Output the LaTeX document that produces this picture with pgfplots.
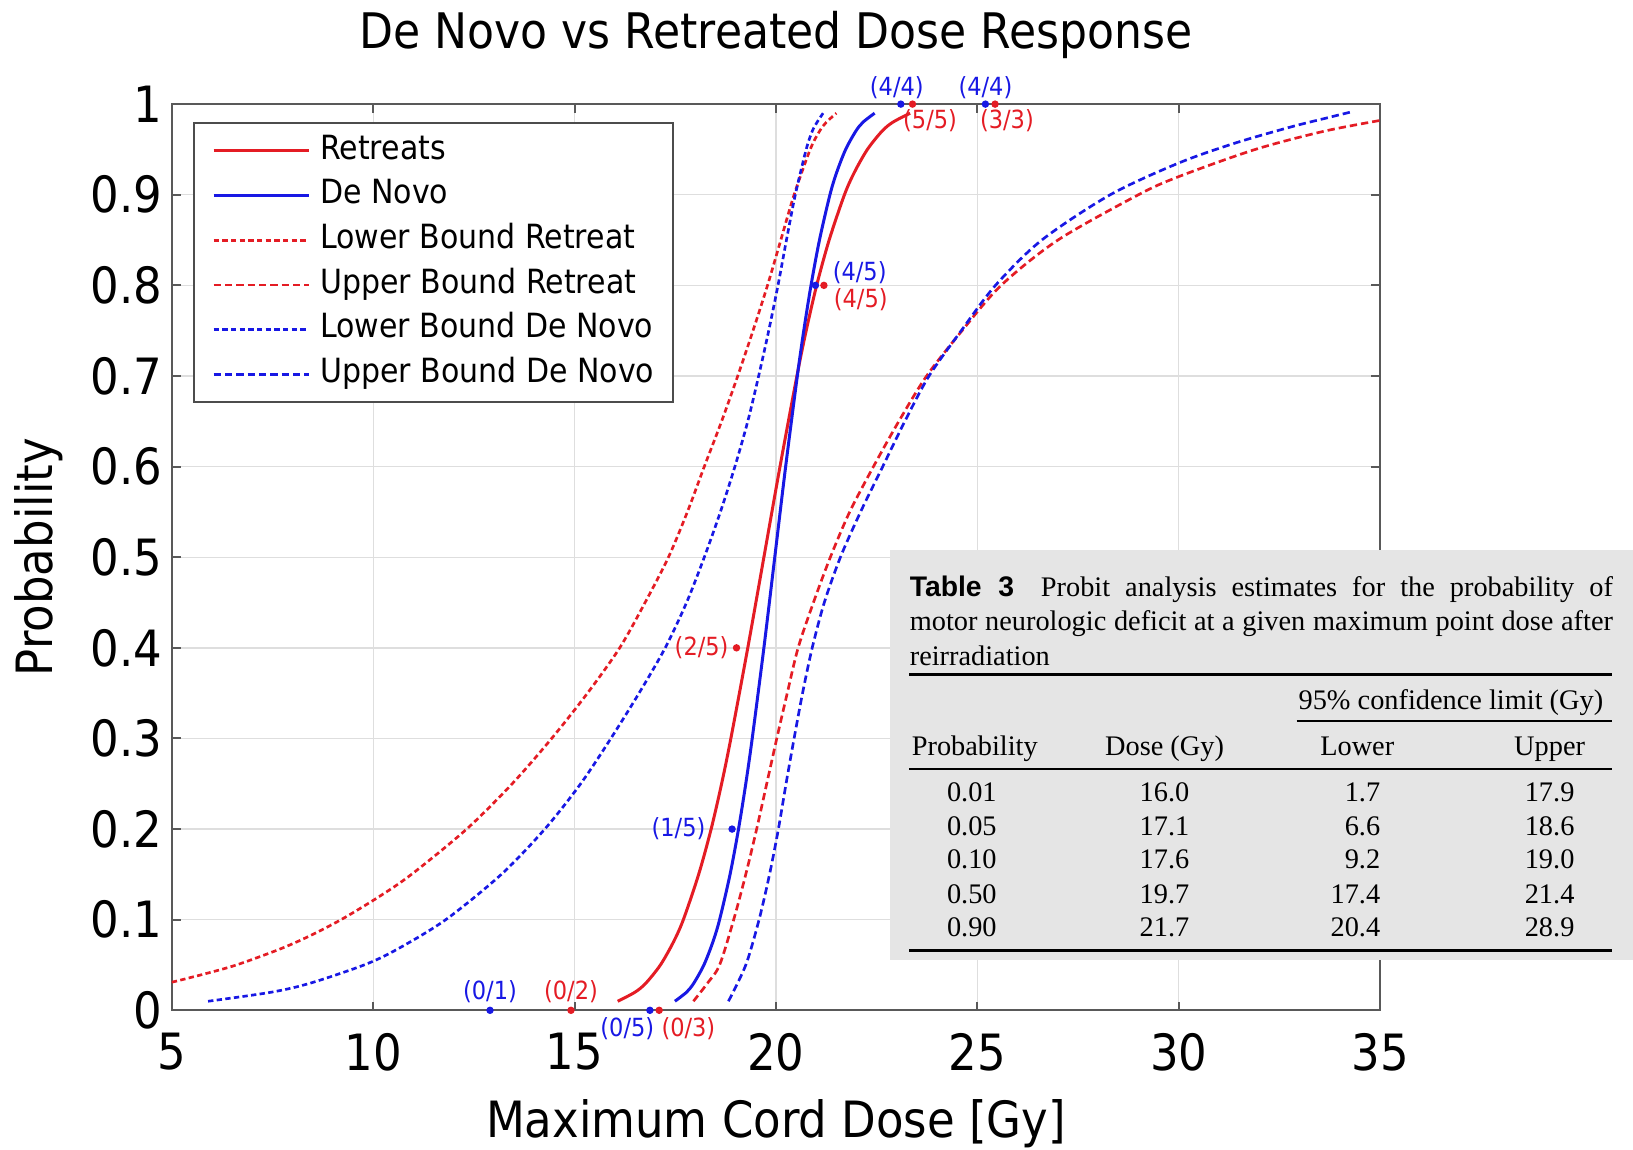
\documentclass[border=0pt]{standalone}
\usepackage{pgfplots}
\pgfplotsset{compat=1.18}
\usepackage{fontspec}
\setmainfont{DejaVu Sans}[FakeStretch=0.9]
\newfontfamily\tabserif{Liberation Serif}
\newfontfamily\tabsans{Liberation Sans}
\definecolor{mred}{RGB}{228,28,36}
\definecolor{mblue}{RGB}{24,24,228}
\begin{document}
\begin{tikzpicture}
\begin{axis}[
  width=362.4pt, height=271.8pt, scale only axis,
  xmin=5, xmax=35, ymin=0, ymax=1,
  xtick={5,10,15,20,25,30,35},
  xticklabels={5,10,15,20,25,30,35},
  ytick={0,0.1,0.2,0.3,0.4,0.5,0.6,0.7,0.8,0.9,1},
  yticklabels={0,0.1,0.2,0.3,0.4,0.5,0.6,0.7,0.8,0.9,1},
  /pgf/number format/assume math mode=true,
  tick label style={font=\fontsize{15}{18}\selectfont},
  xticklabel style={anchor=north, inner sep=0pt, yshift=-6.6pt},
  yticklabel style={anchor=east, inner sep=0pt, xshift=-2.7pt},
  title={De Novo vs Retreated Dose Response},
  title style={at={(axis description cs:0.5,1.0392)}, anchor=base, font=\fontsize{14.7}{17}\selectfont, inner sep=0pt},
  xlabel={Maximum Cord Dose [Gy]},
  xlabel style={at={(axis description cs:0.5,-0.1402)}, anchor=base, font=\fontsize{15}{18}\selectfont, inner sep=0pt},
  ylabel={Probability},
  ylabel style={at={(axis description cs:-0.0991,0.5)}, anchor=base, font=\fontsize{15}{18}\selectfont, inner sep=0pt},
  grid=major, major grid style={line width=0.4pt, black!13},
  axis line style={line width=0.6pt, black!65},
  major tick style={line width=0.6pt, black!65}, major tick length=2.6pt, tick align=inside,
  clip=false,
  legend style={at={(axis description cs:0.0174,0.980)}, anchor=north west,
    draw=black!70, line width=0.6pt, fill=white,
    font=\fontsize{10}{12}\selectfont,
    inner xsep=5.5pt, inner ysep=3.4pt, row sep=3.6pt, column sep=3pt,
    nodes={inner sep=0pt, text height=7.4pt, text depth=2.4pt}},
  legend cell align=left,
  legend image code/.code={\draw[#1] (0pt,0pt) -- (28.5pt,0pt);},
]
% Retreats
\addplot[mred, line width=0.9pt, smooth] coordinates {
(16.07,0.01)(16.50,0.02)(16.77,0.03)(17.13,0.05)(17.45,0.075)(17.70,0.10)(18.08,0.15)(18.39,0.20)(18.65,0.25)(18.88,0.30)(19.30,0.40)(19.70,0.50)(20.10,0.60)(20.52,0.70)(20.75,0.75)(21.01,0.80)(21.32,0.85)(21.70,0.90)(21.95,0.925)(22.27,0.95)(22.63,0.97)(22.90,0.98)(23.33,0.99)};
\addlegendentry{Retreats}
% De Novo
\addplot[mblue, line width=0.9pt, smooth] coordinates {
(17.49,0.01)(17.78,0.02)(17.96,0.03)(18.21,0.05)(18.43,0.075)(18.60,0.10)(18.86,0.15)(19.07,0.20)(19.25,0.25)(19.41,0.30)(19.70,0.40)(19.97,0.50)(20.24,0.60)(20.53,0.70)(20.69,0.75)(20.87,0.80)(21.08,0.85)(21.34,0.90)(21.51,0.925)(21.73,0.95)(21.98,0.97)(22.16,0.98)(22.45,0.99)};
\addlegendentry{De Novo}
% Lower Bound Retreat
\addplot[mred, line width=0.8pt, dash pattern=on 1.6pt off 1pt, smooth] coordinates {
(5.0,0.031)(5.8,0.040)(6.6,0.05)(7.65,0.067)(8.37,0.081)(9.2,0.10)(10.13,0.125)(10.95,0.15)(12.32,0.20)(13.45,0.25)(14.43,0.30)(15.32,0.35)(16.12,0.40)(16.75,0.45)(17.33,0.50)(17.80,0.55)(18.22,0.60)(18.65,0.65)(19.05,0.70)(19.43,0.75)(19.79,0.80)(20.12,0.85)(20.45,0.90)(20.85,0.95)(21.08,0.97)(21.25,0.98)(21.5,0.99)};
\addlegendentry{Lower Bound Retreat}
% Upper Bound Retreat
\addplot[mred, line width=0.8pt, dash pattern=on 2.2pt off 1.2pt, smooth] coordinates {
(17.95,0.01)(18.3,0.03)(18.6,0.05)(18.95,0.10)(19.25,0.15)(19.52,0.20)(19.77,0.25)(20.02,0.30)(20.28,0.35)(20.55,0.40)(20.93,0.45)(21.35,0.50)(21.83,0.55)(22.42,0.60)(23.05,0.65)(23.74,0.70)(24.62,0.75)(25.59,0.80)(27.0,0.85)(29.0,0.90)(30.0,0.92)(31.9,0.95)(33.6,0.97)(35.0,0.982)};
\addlegendentry{Upper Bound Retreat}
% Lower Bound De Novo
\addplot[mblue, line width=0.8pt, dash pattern=on 1.6pt off 1pt, smooth] coordinates {
(5.9,0.01)(7.47,0.02)(8.44,0.03)(9.77,0.05)(10.58,0.067)(11.8,0.10)(13.18,0.15)(14.26,0.20)(15.15,0.25)(15.9,0.30)(16.6,0.35)(17.25,0.40)(17.78,0.45)(18.22,0.50)(18.62,0.55)(18.98,0.60)(19.3,0.65)(19.57,0.70)(19.82,0.75)(20.05,0.80)(20.26,0.85)(20.48,0.90)(20.75,0.95)(20.9,0.97)(21.02,0.98)(21.17,0.99)};
\addlegendentry{Lower Bound De Novo}
% Upper Bound De Novo
\addplot[mblue, line width=0.8pt, dash pattern=on 2.2pt off 1.2pt, smooth] coordinates {
(18.82,0.01)(19.25,0.05)(19.58,0.10)(19.84,0.15)(20.06,0.20)(20.25,0.25)(20.45,0.30)(20.66,0.35)(20.9,0.40)(21.2,0.45)(21.6,0.50)(22.1,0.55)(22.65,0.60)(23.2,0.65)(23.8,0.70)(24.6,0.75)(25.45,0.80)(26.6,0.85)(28.3,0.90)(30.0,0.935)(31.4,0.957)(32.8,0.975)(33.7,0.985)(34.25,0.991)};
\addlegendentry{Upper Bound De Novo}
% observed points
\addplot[only marks, mark=*, mark size=0.9pt, mblue, forget plot] coordinates {
(12.9,0)(16.87,0)(18.91,0.2)(20.98,0.8)(23.1,1)(25.2,1)};
\addplot[only marks, mark=*, mark size=0.9pt, mred, forget plot] coordinates {
(14.91,0)(17.1,0)(19.02,0.4)(21.19,0.8)(23.39,1)(25.44,1)};
% point labels
\tikzset{ann/.style={inner sep=0pt, font=\fontsize{7.5}{9}\selectfont}}
\node[ann, text=mblue, anchor=south, yshift=2pt] at (axis cs:12.9,0) {(0/1)};
\node[ann, text=mblue, anchor=north east, xshift=1.5pt, yshift=-2pt] at (axis cs:16.87,0) {(0/5)};
\node[ann, text=mblue, anchor=east, xshift=-7.8pt] at (axis cs:18.91,0.2) {(1/5)};
\node[ann, text=mblue, anchor=west, xshift=5pt, yshift=3.7pt] at (axis cs:20.98,0.8) {(4/5)};
\node[ann, text=mblue, anchor=south, xshift=-1.2pt, yshift=1.5pt] at (axis cs:23.1,1) {(4/4)};
\node[ann, text=mblue, anchor=south, yshift=1.5pt] at (axis cs:25.2,1) {(4/4)};
\node[ann, text=mred, anchor=south, yshift=2pt] at (axis cs:14.91,0) {(0/2)};
\node[ann, text=mred, anchor=north west, xshift=0.5pt, yshift=-2pt] at (axis cs:17.1,0) {(0/3)};
\node[ann, text=mred, anchor=east, xshift=-2.2pt] at (axis cs:19.02,0.4) {(2/5)};
\node[ann, text=mred, anchor=west, xshift=2.8pt, yshift=-4.4pt] at (axis cs:21.19,0.8) {(4/5)};
\node[ann, text=mred, anchor=north west, xshift=-3pt, yshift=-1.5pt] at (axis cs:23.39,1) {(5/5)};
\node[ann, text=mred, anchor=north west, xshift=-4.7pt, yshift=-1.5pt] at (axis cs:25.44,1) {(3/3)};
% anchors for table and bounding box
\coordinate (tblNW) at (axis cs:22.843,0.508);
\coordinate (tblSE) at (axis cs:41.28,0.0552);
\coordinate (bbSW) at (axis cs:0.733,-0.154);
\coordinate (bbNE) at (axis cs:41.28,1.1149);
\end{axis}
% inset table
\fill[black!10] (tblNW) rectangle (tblSE);
\tikzset{tt/.style={anchor=base, inner sep=0pt, font=\tabserif\fontsize{8.5}{10.3}\selectfont}}
\node[anchor=north west, inner sep=0pt, text width=210.9pt, align=justify,
      font=\tabserif\fontsize{8.5}{10.3}\selectfont]
  at ([shift={(5.6pt,-7.6pt)}]tblNW)
  {{\tabsans\bfseries Table 3}\hspace{8pt}Probit analysis estimates for the probability of\linebreak motor neurologic deficit at a given maximum point dose after\linebreak reirradiation};
\draw[line width=0.9pt] ([shift={(5.6pt,-37.5pt)}]tblNW) -- ++(210.9pt,0);
\draw[line width=0.5pt] ([shift={(121.8pt,-51.2pt)}]tblNW) -- ([shift={(216.5pt,-51.2pt)}]tblNW);
\draw[line width=0.6pt] ([shift={(5.6pt,-65.6pt)}]tblNW) -- ++(210.9pt,0);
\draw[line width=0.9pt] ([shift={(5.6pt,-120pt)}]tblNW) -- ++(210.9pt,0);
\node[tt] at ([shift={(168.1pt,-47.8pt)}]tblNW) {95\% confidence limit (Gy)};
\node[tt, anchor=base west] at ([shift={(6.2pt,-61.5pt)}]tblNW) {Probability};
\node[tt] at ([shift={(82.2pt,-61.5pt)}]tblNW) {Dose (Gy)};
\node[tt] at ([shift={(140pt,-61.5pt)}]tblNW) {Lower};
\node[tt] at ([shift={(197.7pt,-61.5pt)}]tblNW) {Upper};
\foreach \p/\d/\l/\u/\y in {0.01/16.0/1.7/17.9/75.3pt, 0.05/17.1/6.6/18.6/85.6pt, 0.10/17.6/9.2/19.0/95.6pt, 0.50/19.7/17.4/21.4/105.9pt, 0.90/21.7/20.4/28.9/115.9pt}{
  \node[tt] at ([shift={(24.4pt,-\y)}]tblNW) {\p};
  \node[tt] at ([shift={(82.2pt,-\y)}]tblNW) {\d};
  \node[tt, anchor=base east] at ([shift={(147.1pt,-\y)}]tblNW) {\l};
  \node[tt] at ([shift={(197.7pt,-\y)}]tblNW) {\u};
}
\pgfresetboundingbox
\path (bbSW) rectangle (bbNE);
\end{tikzpicture}
\end{document}
